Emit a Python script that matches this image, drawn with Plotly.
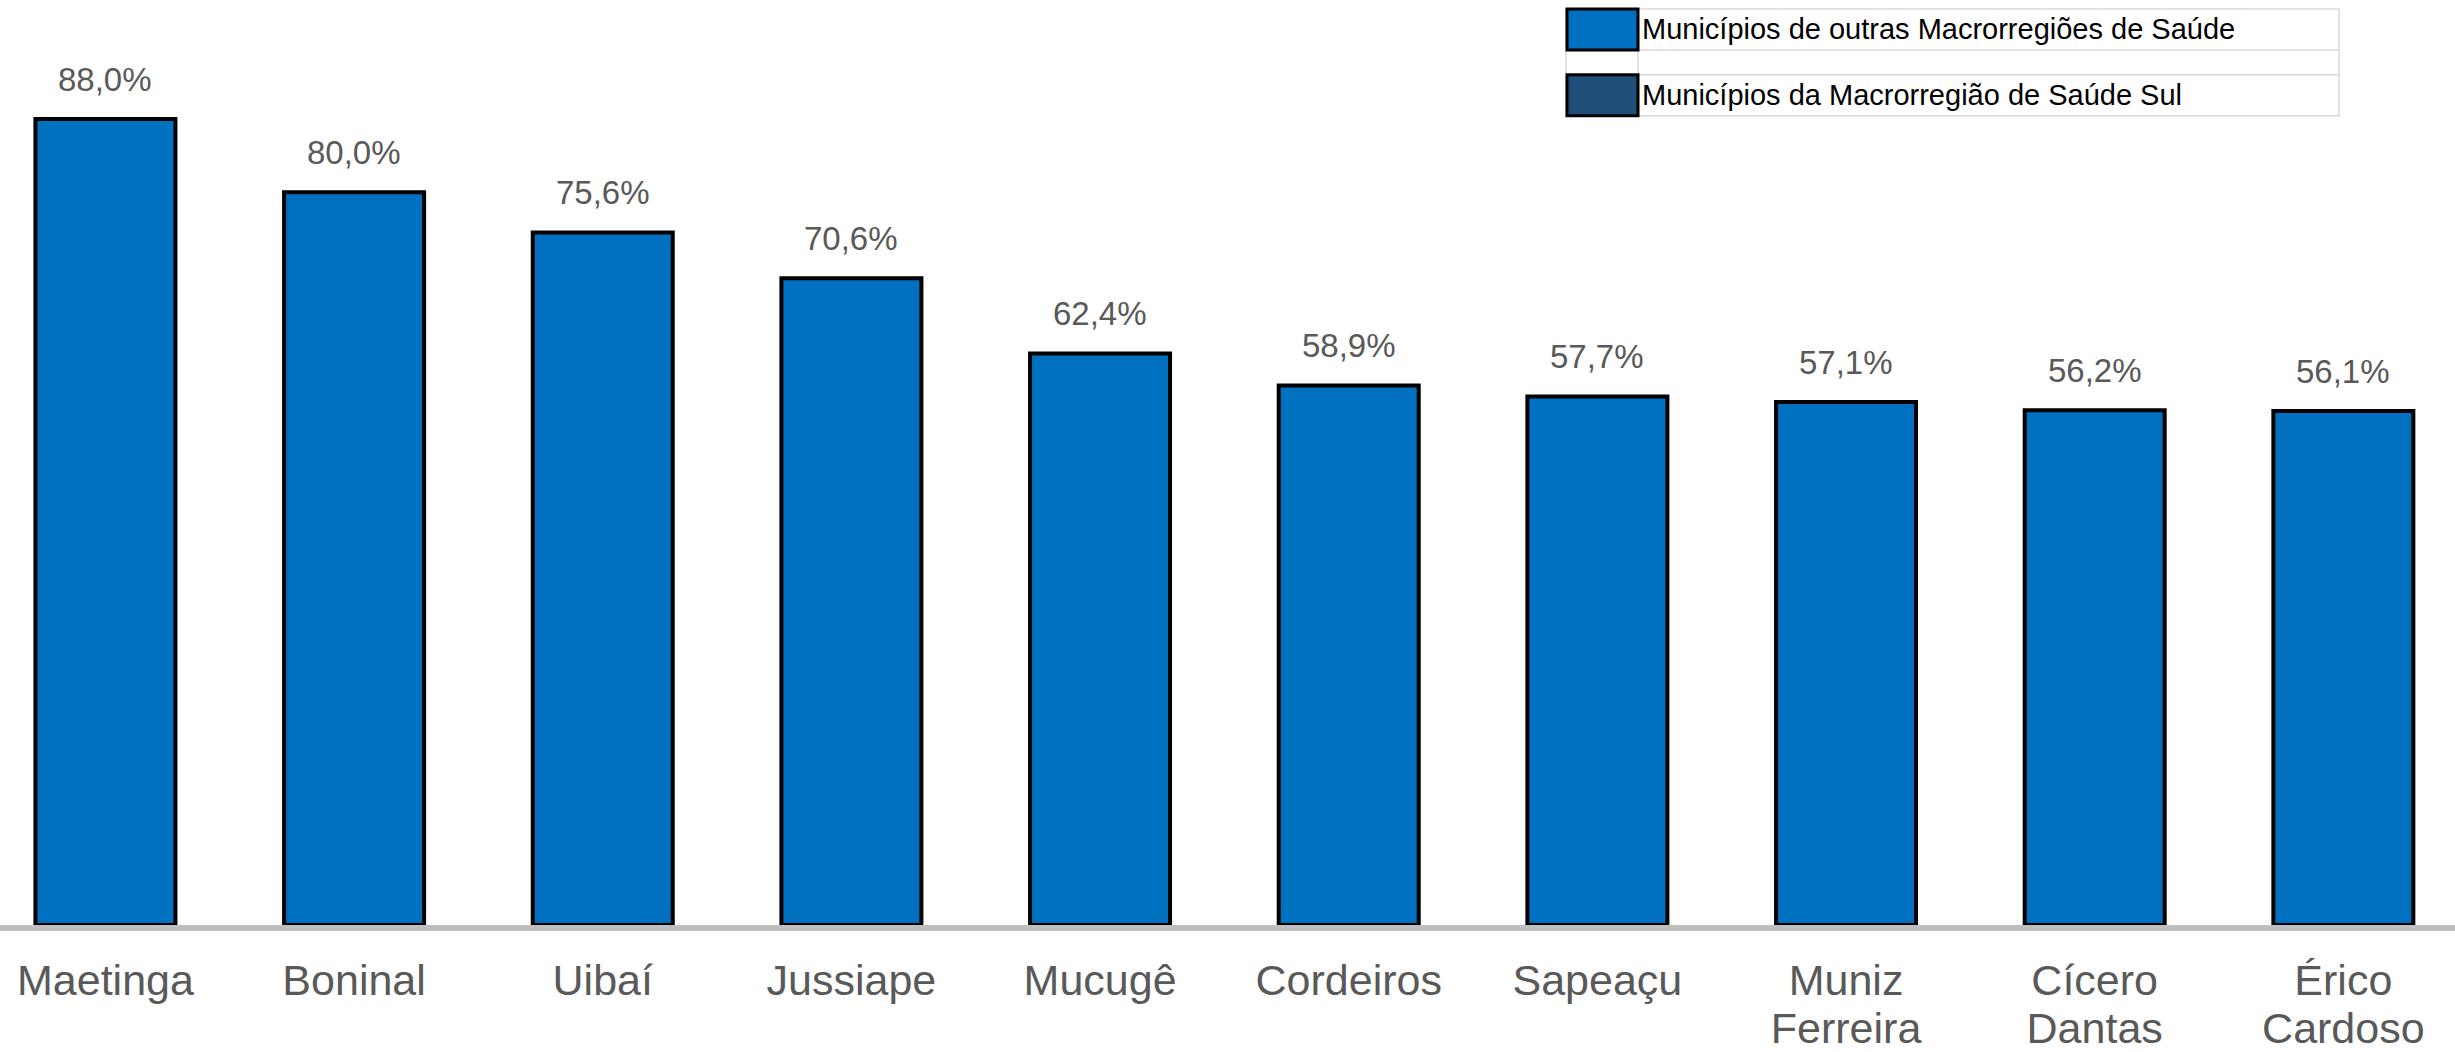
"""Bar chart: top municipalities by percentage, with a table-style legend."""

import plotly.graph_objects as go

W, H = 2455, 1052
PLOT_BOTTOM = 927  # pixel row of the category axis

MUNICIPIOS = [
    "Maetinga", "Boninal", "Uibaí", "Jussiape", "Mucugê", "Cordeiros",
    "Sapeaçu", "Muniz<br>Ferreira", "Cícero<br>Dantas", "Érico<br>Cardoso",
]
PERCENTUAIS = [88.0, 80.0, 75.6, 70.6, 62.4, 58.9, 57.7, 57.1, 56.2, 56.1]
LEGENDA = [
    "Municípios de outras Macrorregiões de Saúde",
    "Municípios da Macrorregião de Saúde Sul",
]
CORES_LEGENDA = ["#0070C0", "#1F4E79"]

FONT = "Arial, Liberation Sans, sans-serif"
X_RANGE = [-0.424, 9.449]


def px_x(x):
    return x / W


def px_y(y):
    return (PLOT_BOTTOM - y) / PLOT_BOTTOM


def fmt(v):
    return f"{v:.1f}".replace(".", ",") + "%"


posicoes = list(range(len(MUNICIPIOS)))
linha1 = [m.split("<br>")[0] for m in MUNICIPIOS]
linha2 = [m.split("<br>")[1] if "<br>" in m else "" for m in MUNICIPIOS]

fig = go.Figure()
fig.add_trace(
    go.Bar(
        x=posicoes,
        y=PERCENTUAIS,
        width=0.563,
        marker=dict(color="#0070C0", line=dict(color="#000000", width=4)),
        hoverinfo="skip",
        showlegend=False,
    )
)
# invisible companion trace so the second-line tick axis gets drawn
fig.add_trace(
    go.Scatter(
        x=posicoes,
        y=PERCENTUAIS,
        xaxis="x2",
        mode="markers",
        marker=dict(opacity=0),
        hoverinfo="skip",
        showlegend=False,
    )
)

annotations = [
    dict(
        x=i, y=v, xref="x", yref="y", text=fmt(v), showarrow=False,
        yanchor="bottom", yshift=19,
        font=dict(family=FONT, size=33, color="#595959"),
    )
    for i, v in enumerate(PERCENTUAIS)
]

# table-like legend in the top right corner
shapes = []
left, swatch_right, right = 1566, 1638, 2339
rows = [(9, 50), (75, 116)]
grid = "#D9D9D9"
shapes.append(dict(type="rect", xref="paper", yref="paper",
                   x0=px_x(left), x1=px_x(right), y0=px_y(116), y1=px_y(9),
                   line=dict(color=grid, width=1.5), fillcolor="rgba(0,0,0,0)"))
for yy in (50, 75):
    shapes.append(dict(type="line", xref="paper", yref="paper",
                       x0=px_x(left), x1=px_x(right), y0=px_y(yy), y1=px_y(yy),
                       line=dict(color=grid, width=1.5)))
shapes.append(dict(type="line", xref="paper", yref="paper",
                   x0=px_x(swatch_right), x1=px_x(swatch_right), y0=px_y(50), y1=px_y(75),
                   line=dict(color=grid, width=1.5)))
for (top, bottom), cor, label in zip(rows, CORES_LEGENDA, LEGENDA):
    shapes.append(dict(type="rect", xref="paper", yref="paper",
                       x0=px_x(left + 1), x1=px_x(swatch_right), y0=px_y(bottom), y1=px_y(top),
                       fillcolor=cor, line=dict(color="#000000", width=3)))
    annotations.append(dict(
        x=px_x(swatch_right + 2), y=px_y((top + bottom) / 2), xref="paper", yref="paper",
        text=label, showarrow=False, xanchor="left", yanchor="middle",
        font=dict(family=FONT, size=29, color="#000000"),
    ))

tick_common = dict(
    tickmode="array",
    tickvals=posicoes,
    range=X_RANGE,
    showgrid=False,
    zeroline=False,
    ticks="outside",
    tickcolor="rgba(0,0,0,0)",
    tickfont=dict(family=FONT, size=43, color="#595959"),
    fixedrange=True,
)

fig.update_layout(
    width=W,
    height=H,
    margin=dict(l=0, r=0, t=0, b=H - PLOT_BOTTOM, pad=0),
    paper_bgcolor="white",
    plot_bgcolor="white",
    annotations=annotations,
    shapes=shapes,
    xaxis=dict(
        ticktext=linha1,
        showline=True,
        linecolor="#BFBFBF",
        linewidth=6,
        ticklen=12,
        **tick_common,
    ),
    # second line of the two-word names, set a bit tighter than <br> spacing
    xaxis2=dict(
        ticktext=linha2,
        overlaying="x",
        anchor="y",
        side="bottom",
        showline=False,
        ticklen=65,
        **tick_common,
    ),
    yaxis=dict(
        range=[0, PLOT_BOTTOM / 9.18],
        visible=False,
        showgrid=False,
        zeroline=False,
        fixedrange=True,
    ),
)

fig.write_html(
    "out.html",
    config={"displayModeBar": False},
    post_script="document.body.style.margin='0';",
)
